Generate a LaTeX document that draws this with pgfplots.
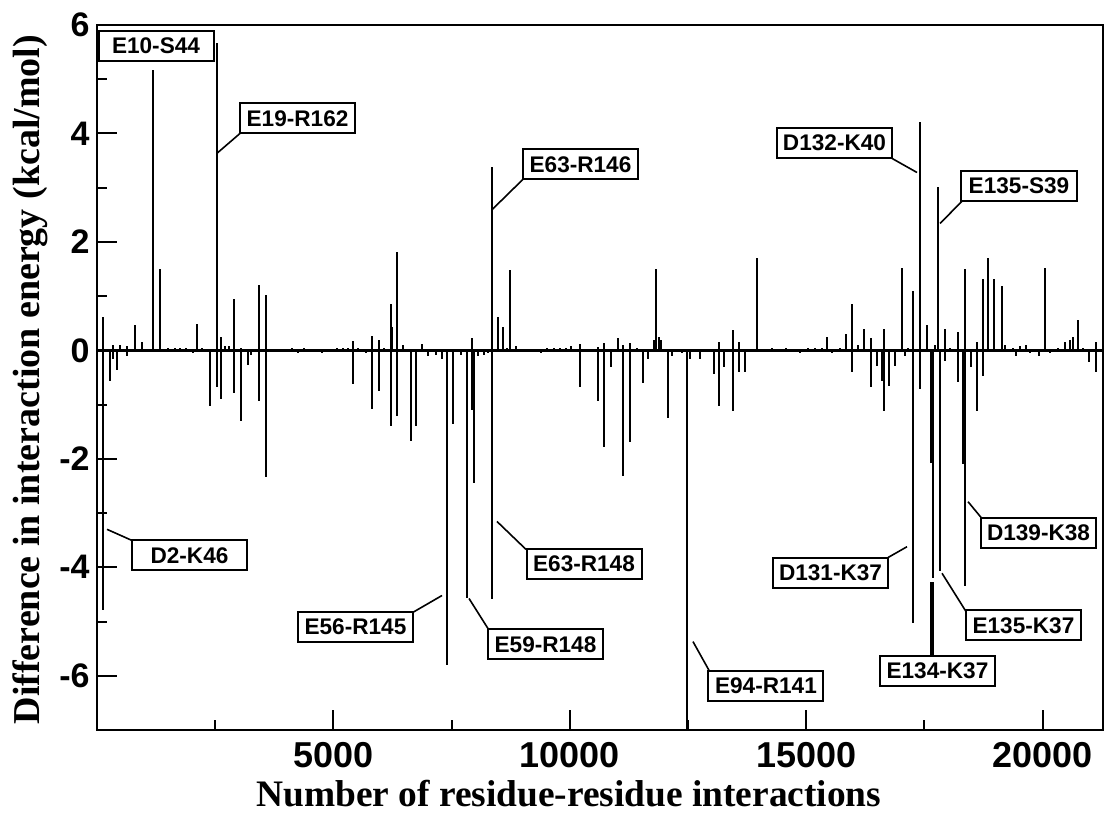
\documentclass[border=0pt]{standalone}
\usepackage{fontspec}
\setmainfont{Liberation Serif}
\setsansfont{Liberation Sans}
\usepackage{pgfplots}
\pgfplotsset{compat=1.18}

% spikes (x = interaction index, y = energy difference)
\pgfplotstableread{
x y
133 0.61
133 -4.79
275 -0.56
338 0.10
338 -0.15
417 -0.37
486 0.10
635 0.08
635 -0.10
804 0.46
945 0.16
1191 5.17
1332 1.50
1502 0.04
1650 0.04
1755 0.04
1882 0.04
2030 -0.05
2109 0.49
2221 0.05
2390 -1.02
2532 5.67
2532 -0.68
2623 0.24
2623 -0.89
2707 0.08
2792 0.08
2904 0.95
2904 -0.79
3046 0.05
3046 -1.30
3187 -0.27
3257 -0.08
3426 1.20
3426 -0.93
3568 1.02
3568 -2.34
3765 0.03
3828 0.03
4124 0.04
4251 -0.04
4378 0.04
4759 -0.05
5076 0.04
5203 0.04
5309 0.04
5421 0.18
5421 -0.62
5520 0.05
5689 -0.05
5823 0.26
5823 -1.08
5971 0.19
5971 -0.74
6070 0.04
6212 0.86
6212 -1.39
6351 1.81
6351 -1.21
6472 0.10
6635 -1.68
6741 -1.39
6874 0.12
7001 -0.10
7170 -0.08
7297 -0.15
7409 -5.80
7536 -1.36
7699 -0.08
7819 -4.57
7931 0.22
7931 -1.10
7963 -2.45
8058 -0.10
8185 -0.08
8270 -0.05
8361 3.39
8361 -4.58
8487 0.61
8593 0.44
8672 0.05
8735 1.48
8862 0.08
9391 -0.05
9518 0.04
9666 0.04
9792 0.05
9919 0.05
10025 0.08
10215 0.12
10215 -0.68
10321 0.03
10602 0.07
10602 -0.93
10729 0.13
10729 -1.78
10871 -0.30
11013 0.22
11131 0.10
11131 -2.32
11273 0.14
11273 -1.69
11421 0.05
11542 -0.60
11654 -0.15
11781 0.20
11823 1.50
11876 0.25
11929 0.20
12083 -1.24
12161 -0.10
12373 -0.05
12472 -7.00
12542 -0.15
12753 -0.15
12923 0.03
13050 -0.44
13162 0.15
13162 -1.02
13261 -0.30
13445 0.37
13445 -1.12
13585 0.15
13585 -0.40
13712 -0.39
13965 1.71
14128 0.03
14276 0.04
14424 0.03
14572 0.05
14868 -0.05
15038 0.04
15186 0.04
15334 0.05
15446 0.24
15545 -0.04
15714 0.05
15835 0.31
15962 0.86
15962 -0.40
16095 0.10
16222 0.40
16364 0.22
16364 -0.68
16504 -0.28
16645 0.40
16645 -1.11
16751 -0.65
16878 -0.28
17019 1.51
17089 -0.10
17153 0.05
17265 1.10
17265 -5.02
17406 4.21
17406 -0.71
17548 0.46
17675 -4.20
17724 0.10
17793 3.02
17819 -4.06
17935 0.40
17935 -0.20
18041 0.05
18217 0.34
18217 -0.59
18365 1.50
18365 -4.34
18479 -0.30
18606 0.15
18606 -1.11
18732 1.31
18732 -0.48
18851 1.71
18978 1.31
19134 1.19
19204 0.10
19373 0.05
19437 -0.10
19521 0.08
19648 0.10
19733 -0.05
19923 -0.10
20050 1.52
20156 -0.05
20325 0.05
20473 0.15
20579 0.20
20642 0.25
20755 0.56
20854 0.05
20987 -0.22
21129 0.15
21129 -0.40
21271 0.37
21271 -2.90
}\spikes

% the few spikes drawn heavier in the figure
\pgfplotstableread{
x y
6230 0.44
7950 -1.10
16609 -0.56
17654 -2.07
18337 -2.10
}\thick

\tikzset{
  lbl/.style={draw=black, line width=1pt, fill=white, inner sep=0pt,
    minimum width=57.5pt, minimum height=15pt,
    font=\sffamily\bfseries\fontsize{11.3}{12}\selectfont},
  lead/.style={black, line width=0.8pt}
}

\begin{document}
\begin{tikzpicture}
\begin{axis}[
    name=ax,
    scale only axis,
    width=503pt, height=352.5pt,
    xmin=0, xmax=21277,
    ymin=-7, ymax=6,
    xtick={5000,10000,15000,20000},
    minor xtick={2500,7500,12500,17500},
    ytick={-6,-4,...,6},
    minor ytick={-5,-3,-1,1,3,5},
    tick pos=left, tick align=inside,
    major tick length=10pt, minor tick length=5pt,
    every tick/.style={black, line width=1pt},
    axis line style={line width=1pt},
    scaled x ticks=false,
    /pgf/number format/1000 sep={},
    /pgf/number format/assume math mode=true,
    xticklabel style={font=\sffamily\bfseries\fontsize{18}{18}\selectfont, inner sep=0pt, yshift=-6pt},
    yticklabel style={font=\sffamily\bfseries\fontsize{17}{17}\selectfont, inner sep=0pt, xshift=-3.5pt},
    xlabel={Number of residue-residue interactions},
    ylabel={Difference in interaction energy (kcal/mol)},
    xlabel style={font=\bfseries\fontsize{18.7}{19}\selectfont, inner sep=0pt,
      at={(axis description cs:0.469,0)}, anchor=north, yshift=-25pt},
    ylabel style={font=\bfseries\fontsize{19}{19}\selectfont, inner sep=0pt,
      at={(axis description cs:-0.0845,0.497)}, anchor=north},
]
\addplot[black, line width=1.2pt] coordinates {(0,0) (21277,0)};
\addplot[ycomb, black, line width=1pt] table[x=x, y=y] {\spikes};
\addplot[ycomb, black, line width=1.8pt] table[x=x, y=y] {\thick};

\draw[lead] (axis cs:3024,4.00) -- (axis cs:2532,3.63);
\draw[lead] (axis cs:9010,3.155) -- (axis cs:8361,2.60);
\draw[lead] (axis cs:16814,3.54) -- (axis cs:17343,3.28);
\draw[lead] (axis cs:18295,2.75) -- (axis cs:17829,2.34);
\draw[lead] (axis cs:740,-3.505) -- (axis cs:212,-3.30);
\draw[lead] (axis cs:9073,-3.67) -- (axis cs:8460,-3.155);
\draw[lead] (axis cs:6683,-4.83) -- (axis cs:7297,-4.52);
\draw[lead] (axis cs:8270,-5.13) -- (axis cs:7868,-4.575);
\draw[lead] (axis cs:12944,-5.90) -- (axis cs:12605,-5.37);
\draw[lead] (axis cs:16730,-3.82) -- (axis cs:17132,-3.62);
\draw[lead] (axis cs:18697,-3.08) -- (axis cs:18422,-2.79);
\draw[lead] (axis cs:18379,-4.815) -- (axis cs:17872,-4.11);
\draw[black, line width=1.6pt] (axis cs:17660,-5.63) -- (axis cs:17660,-4.28);

\node[lbl] at (axis cs:1248,5.61) {E10-S44};
\node[lbl] at (axis cs:4241,4.28) {E19-R162};
\node[lbl] at (axis cs:10226,3.43) {E63-R146};
\node[lbl] at (axis cs:15598,3.83) {D132-K40};
\node[lbl] at (axis cs:19500,3.035) {E135-S39};
\node[lbl] at (axis cs:1956,-3.78) {D2-K46};
\node[lbl] at (axis cs:10300,-3.93) {E63-R148};
\node[lbl] at (axis cs:5467,-5.10) {E56-R145};
\node[lbl] at (axis cs:9486,-5.42) {E59-R148};
\node[lbl] at (axis cs:14149,-6.18) {E94-R141};
\node[lbl] at (axis cs:15514,-4.105) {D131-K37};
\node[lbl] at (axis cs:19913,-3.37) {D139-K38};
\node[lbl] at (axis cs:19595,-5.07) {E135-K37};
\node[lbl] at (axis cs:17776,-5.91) {E134-K37};
\end{axis}
\pgfresetboundingbox
\path[use as bounding box] ([shift={(-48.5pt,-43pt)}]ax.south west) rectangle ([shift={(1pt,12.5pt)}]ax.north east);
\end{tikzpicture}
\end{document}
